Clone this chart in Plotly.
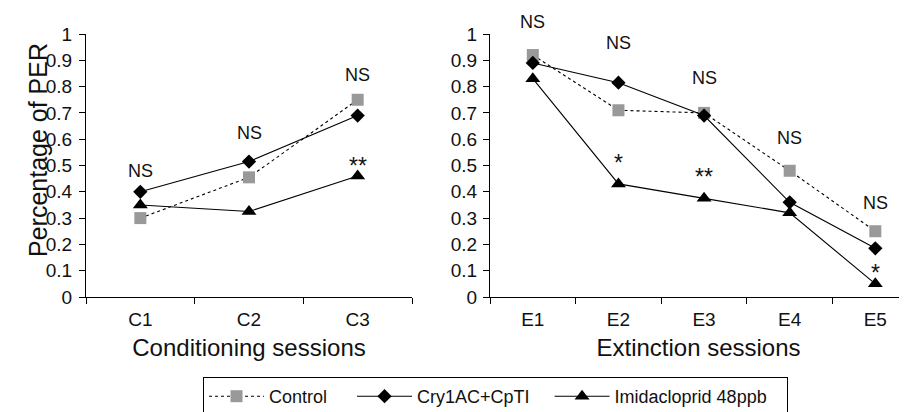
import plotly.graph_objects as go

# ---- data ----
cond_sessions = ["C1", "C2", "C3"]
ext_sessions = ["E1", "E2", "E3", "E4", "E5"]

control_cond = [0.30, 0.455, 0.75]
cry_cond = [0.40, 0.515, 0.69]
imid_cond = [0.35, 0.325, 0.46]

control_ext = [0.92, 0.71, 0.70, 0.48, 0.25]
cry_ext = [0.89, 0.815, 0.69, 0.36, 0.185]
imid_ext = [0.83, 0.43, 0.375, 0.32, 0.05]

series_names = ["Control", "Cry1AC+CpTI", "Imidacloprid 48ppb"]

cond_sig = ["NS", "NS", "NS"]
cond_sig_y = [0.48, 0.625, 0.845]
cond_extra = [("C3", "**", 0.50)]

ext_sig = ["NS", "NS", "NS", "NS", "NS"]
ext_sig_y = [1.047, 0.965, 0.832, 0.604, 0.357]
ext_extra = [("E2", "*", 0.51), ("E3", "**", 0.455), ("E5", "*", 0.09)]

FONT = "Liberation Sans, Arial, sans-serif"
NBSP = "\u00a0"

# the page body adds an 8px margin; the figure is sized to fill the window
OFF = 8
W, H = 907 - OFF, 412 - OFF


def px(x):
    return (x - OFF) / W


def py(y):
    return 1 - (y - OFF) / H


styles = [
    dict(line=dict(color="black", width=1.1, dash="dot"),
         marker=dict(symbol="square", size=12, color="#999999")),
    dict(line=dict(color="black", width=1.1),
         marker=dict(symbol="diamond", size=11, color="black")),
    dict(line=dict(color="black", width=1.1),
         marker=dict(symbol="triangle-up", size=13, color="black")),
]
legend_pad = [4, 3, 3]

fig = go.Figure()
cond_vals = [control_cond, cry_cond, imid_cond]
ext_vals = [control_ext, cry_ext, imid_ext]
for i, name in enumerate(series_names):
    fig.add_trace(go.Scatter(x=cond_sessions, y=cond_vals[i], mode="lines+markers",
                             name=name + NBSP * legend_pad[i], xaxis="x", yaxis="y",
                             showlegend=True, cliponaxis=False, **styles[i]))
for i, name in enumerate(series_names):
    fig.add_trace(go.Scatter(x=ext_sessions, y=ext_vals[i], mode="lines+markers",
                             name=name, xaxis="x2", yaxis="y2", showlegend=False,
                             cliponaxis=False, **styles[i]))

annots = []


def add_ann(xref, yref, x, y, text):
    size = 18 if text == "NS" else 23
    if y > 1:
        yref = yref + " domain"
    annots.append(dict(x=x, y=y, xref=xref, yref=yref, text=text, showarrow=False,
                       yanchor="middle", font=dict(size=size, color="#111")))


for c, t, y in zip(cond_sessions, cond_sig, cond_sig_y):
    add_ann("x", "y", c, y, t)
for c, t, y in cond_extra:
    add_ann("x", "y", c, y, t)
for c, t, y in zip(ext_sessions, ext_sig, ext_sig_y):
    add_ann("x2", "y2", c, y, t)
for c, t, y in ext_extra:
    add_ann("x2", "y2", c, y, t)

# y-axis title
annots.append(dict(x=px(22), y=py(150), xref="paper", yref="paper",
                   text="Percentage of PER", textangle=-90, showarrow=False,
                   font=dict(size=25, color="#111")))

yticks = [i / 10 for i in range(11)]
ytext = ["0"] + [f"{v:.1f}" for v in yticks[1:-1]] + ["1"]

axis_common = dict(showline=True, linecolor="black", linewidth=1.1,
                   ticks="outside", ticklen=6, tickcolor="black", tickwidth=1.1,
                   showgrid=False, zeroline=False, automargin=False,
                   tickfont=dict(size=19, color="#111", family=FONT))
inner_ticks = dict(range=[0, 1], tickvals=yticks, ticks="inside", ticklen=5,
                   tickcolor="black", tickwidth=1.1, showticklabels=False,
                   showline=False, showgrid=False, zeroline=False, automargin=False)

ydom = [py(297), py(34)]

fig.update_layout(
    width=W, height=H,
    margin=dict(l=0, r=0, t=0, b=0, autoexpand=False),
    paper_bgcolor="white", plot_bgcolor="white",
    font=dict(family=FONT, color="#111"),
    xaxis=dict(domain=[px(86), px(412)], type="category",
               categoryarray=cond_sessions, range=[-0.5, 2.5],
               tickson="boundaries", anchor="y", ticklabelstandoff=5,
               title=dict(text="Conditioning sessions", font=dict(size=24), standoff=10),
               **axis_common),
    yaxis=dict(domain=ydom, range=[0, 1],
               tickvals=yticks, ticktext=ytext, anchor="x", ticklabelstandoff=3,
               **axis_common),
    xaxis2=dict(domain=[px(490), 1.0], type="category",
                categoryarray=ext_sessions, range=[-0.5, 4.37],
                tickson="boundaries", anchor="y2", ticklabelstandoff=5,
                title=dict(text="Extinction sessions", font=dict(size=24), standoff=10),
                **axis_common),
    yaxis2=dict(domain=ydom, range=[0, 1],
                tickvals=yticks, ticktext=ytext, anchor="x2", ticklabelstandoff=2,
                **axis_common),
    yaxis3=dict(overlaying="y", anchor="x", side="left", **inner_ticks),
    yaxis4=dict(overlaying="y2", anchor="x2", side="left", **inner_ticks),
    legend=dict(orientation="h", x=px(203), y=py(377),
                xanchor="left", yanchor="top",
                bordercolor="black", borderwidth=1,
                font=dict(size=18, color="#111"), itemwidth=55,
                bgcolor="white"),
    annotations=annots,
    showlegend=True,
)

fig.write_html("out.html")
